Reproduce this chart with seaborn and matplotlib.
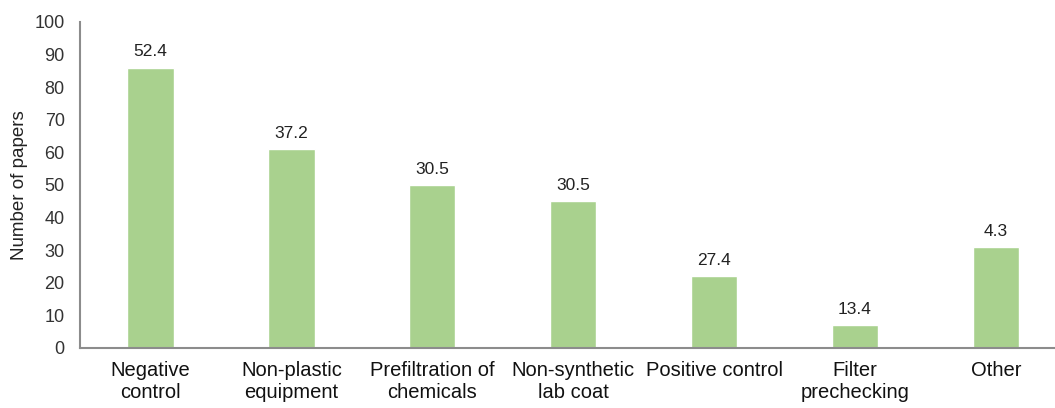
import matplotlib
matplotlib.use("Agg")
import matplotlib.pyplot as plt
import seaborn as sns
import pandas as pd

# Precaution categories, number of papers, and share (%) shown above each bar
categories = ["Negative\ncontrol", "Non-plastic\nequipment", "Prefiltration of\nchemicals",
              "Non-synthetic\nlab coat", "Positive control", "Filter\nprechecking", "Other"]
papers = [86, 61, 50, 45, 22, 7, 31]
shares = ["52.4", "37.2", "30.5", "30.5", "27.4", "13.4", "4.3"]
yticks = [0, 10, 20, 30, 40, 50, 60, 70, 80, 90, 100]

sns.set_style("white")
plt.rcParams["font.family"] = ["Liberation Sans", "DejaVu Sans"]

df = pd.DataFrame({"category": categories, "papers": papers})

fig = plt.figure(figsize=(10.55, 4.08), dpi=100)
ax = fig.add_axes([80 / 1055, 1 - 348 / 408, 975 / 1055, 326 / 408])

sns.barplot(data=df, x="category", y="papers", color="#a9d18e", saturation=1,
            width=0.33, ax=ax)

for i, (h, s) in enumerate(zip(papers, shares)):
    ax.annotate(s, (i, h), xytext=(0, 6), textcoords="offset points",
                ha="center", va="bottom", fontsize=12.5, color="#222222")

ax.set_ylim(0, 100)
ax.set_xlim(-0.5, 6.42)
ax.set_yticks(yticks)
ax.tick_params(axis="y", labelsize=13, length=0, pad=11, colors="#333333")
ax.tick_params(axis="x", labelsize=14.5, length=0, pad=9, colors="#111111")
ax.set_xlabel("")
ax.set_ylabel("Number of papers", fontsize=13.5, color="#222222")
ax.yaxis.set_label_coords(-0.0535, 0.5)

for side in ["top", "right"]:
    ax.spines[side].set_visible(False)
for side in ["left", "bottom"]:
    ax.spines[side].set_color("#8c8c8c")
    ax.spines[side].set_linewidth(1.5)

fig.savefig("out.png", dpi=100)
